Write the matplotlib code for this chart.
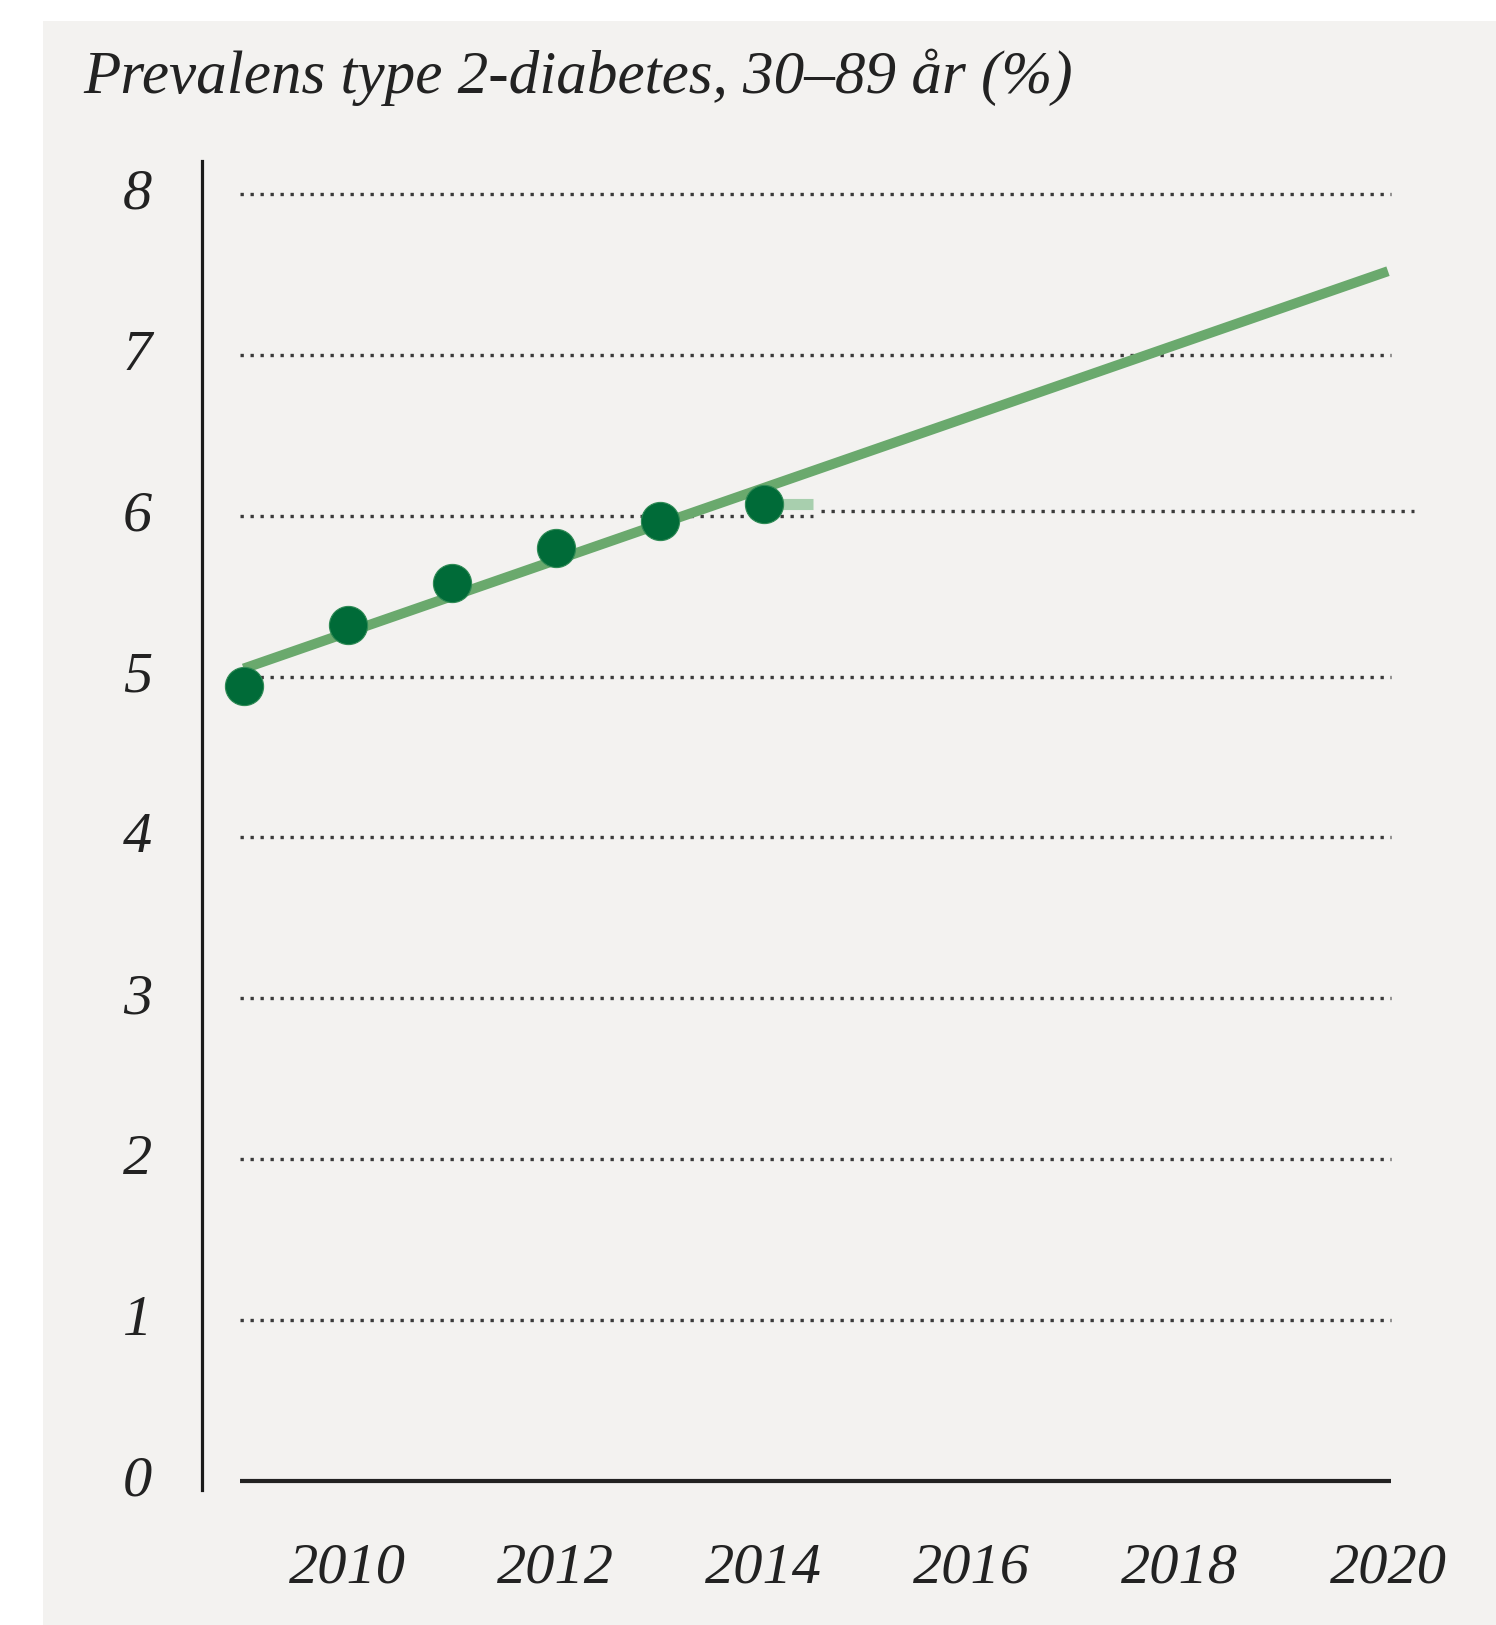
import matplotlib
matplotlib.use("Agg")
import matplotlib.pyplot as plt
from matplotlib.patches import Rectangle
import matplotlib.transforms as mtransforms

# ---- data ----
years = [2009, 2010, 2011, 2012, 2013, 2014]
prevalence = [4.94, 5.32, 5.58, 5.80, 5.97, 6.07]
trend_years = [2009, 2020]
trend_values = [5.05, 7.52]
y_ticks = [0, 1, 2, 3, 4, 5, 6, 7, 8]
x_ticks = [2010, 2012, 2014, 2016, 2018, 2020]
title = "Prevalens type 2-diabetes, 30–89 år (%)"

W, H = 1496, 1625
DPI = 100
fig = plt.figure(figsize=(W / DPI, H / DPI), dpi=DPI)
fig.patch.set_facecolor("white")

# light panel
fig.add_artist(Rectangle((43 / W, 0), 1 - 43 / W, 1 - 21 / H,
                         transform=fig.transFigure, facecolor="#f3f2f0",
                         edgecolor="none", zorder=0))

FONT = "Liberation Serif"
TXT = "#222222"
GRID = "#3a3a3a"
DOTS = (0, (1, 2.0))

ax = fig.add_axes([202 / W, (H - 1490) / H, (1440 - 202) / W, (1490 - 161) / H])
ax.set_facecolor("none")
ax.set_xlim(2008.6, 2020.5)
ax.set_ylim(-0.056, 8.205)

for s in ["top", "right", "bottom"]:
    ax.spines[s].set_visible(False)
ax.spines["left"].set_linewidth(2.3)
ax.spines["left"].set_color("#1a1a1a")

# gridlines (dotted)
for v in y_ticks[1:]:
    x_end = 2014.47 if v == 6 else 2020.03
    ax.plot([2008.97, x_end], [v, v], color=GRID, lw=2.4,
            linestyle=DOTS, zorder=1)
# shifted continuation of the 6-line seen in the reference
ax.plot([2014.55, 2020.25], [6.03, 6.03], color=GRID, lw=2.4,
        linestyle=DOTS, zorder=1)
# baseline
ax.plot([2008.97, 2020.03], [0, 0], color="#222222", lw=3.0,
        solid_capstyle="butt", zorder=2)

# trend line
ax.plot(trend_years, trend_values, color="#6aa96d", lw=7.2,
        solid_capstyle="butt", zorder=3)
# light stub after last point
ax.plot([years[-1], 2014.47], [prevalence[-1], prevalence[-1]],
        color="#a8cfae", lw=8.0, solid_capstyle="butt", zorder=2)

# points
ax.plot(years, prevalence, linestyle="none", marker="o", markersize=27.5,
        markerfacecolor="#006b38", markeredgecolor="#2f8a55",
        markeredgewidth=0.8, zorder=4)

ax.set_yticks(y_ticks)
ax.set_yticklabels([str(v) for v in y_ticks])
ax.set_xticks(x_ticks)
ax.set_xticklabels([str(v) for v in x_ticks])
ax.tick_params(axis="y", length=0, pad=36)
ax.tick_params(axis="x", length=0, pad=38)
up = mtransforms.ScaledTranslation(0, 5 / DPI, fig.dpi_scale_trans)
for lab in ax.get_yticklabels():
    lab.set_transform(lab.get_transform() + up)
for lab in ax.get_yticklabels() + ax.get_xticklabels():
    lab.set_fontfamily(FONT)
    lab.set_fontstyle("italic")
    lab.set_fontsize(42)
    lab.set_color(TXT)

fig.text(83 / W, 1 - 93 / H, title, fontfamily=FONT, fontstyle="italic",
         fontsize=44, color=TXT, ha="left", va="baseline")

fig.savefig("out.png", dpi=DPI, facecolor=fig.get_facecolor())
